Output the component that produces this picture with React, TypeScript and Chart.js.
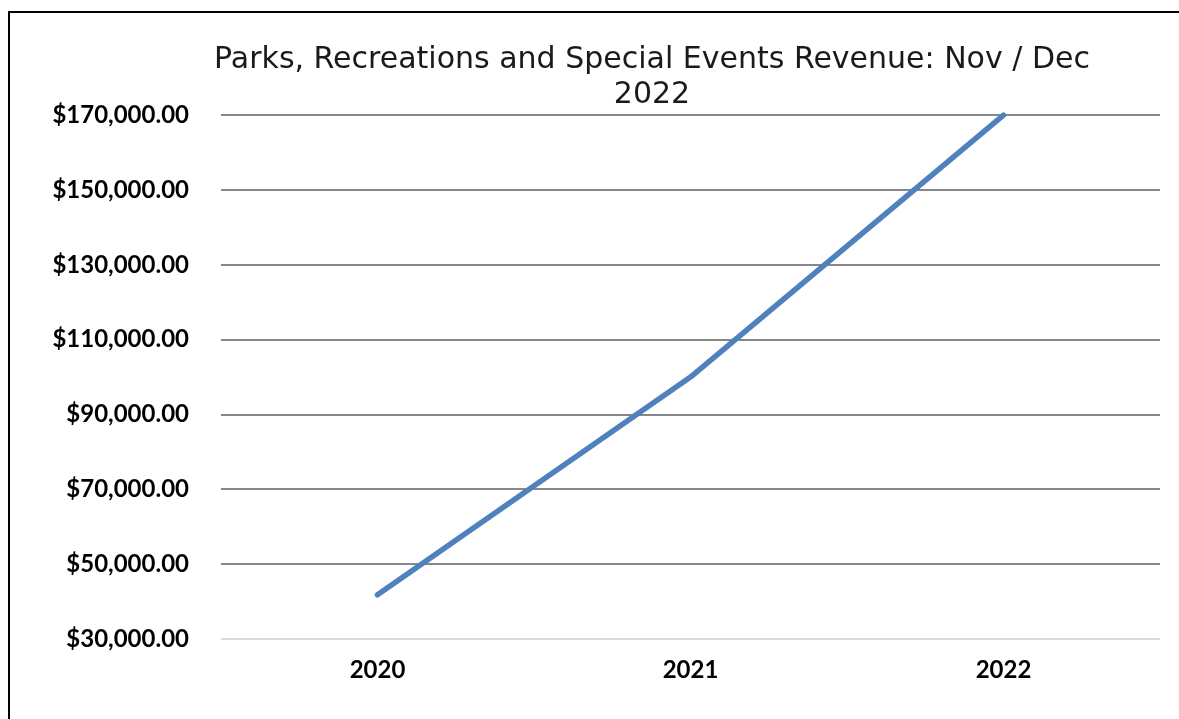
import React, { useEffect, useRef } from "react";
import { Chart, registerables } from "chart.js";

Chart.register(...registerables);

const categories = ["2020", "2021", "2022"];
const revenue = [41800, 100000, 170000];
const titleLines = ["Parks, Recreations and Special Events Revenue: Nov / Dec", "2022"];
const yMin = 30000;
const yMax = 170000;
const yStep = 20000;

function fmt(v: number): string {
  return "$" + v.toLocaleString("en-US", { minimumFractionDigits: 2, maximumFractionDigits: 2 });
}

export default function App() {
  const ref = useRef<HTMLCanvasElement>(null);
  useEffect(() => {
    if (!ref.current) return;
    const chart = new Chart(ref.current, {
      type: "line",
      data: {
        labels: categories,
        datasets: [
          {
            data: revenue,
            borderColor: "#4F81BD",
            backgroundColor: "#4F81BD",
            borderWidth: 5.5,
            pointRadius: 0,
            tension: 0,
            borderCapStyle: "round",
            borderJoinStyle: "round",
            fill: false,
            clip: false as any,
          },
        ],
      },
      options: {
        responsive: false,
        animation: false,
        layout: { padding: 0 },
        plugins: {
          legend: { display: false },
          tooltip: { enabled: false },
          title: {
            display: true,
            text: titleLines,
            color: "#1a1a1a",
            font: { family: "'DejaVu Sans', Verdana, sans-serif", size: 30, weight: "normal", lineHeight: 1.17 },
            padding: { top: 30, bottom: 2 },
          },
        },
        scales: {
          x: {
            offset: true,
            grid: { display: false },
            border: { display: false },
            ticks: {
              color: "#000",
              padding: 9,
              font: { family: "Lato, 'Noto Sans', sans-serif", size: 24, weight: "bold" },
            },
            afterFit: (s: any) => {
              s.height = 80;
            },
          },
          y: {
            min: yMin,
            max: yMax,
            ticks: {
              stepSize: yStep,
              color: "#000",
              padding: 32,
              font: { family: "Lato, 'Noto Sans', sans-serif", size: 24, weight: "bold" },
              callback: (v: any) => fmt(Number(v)),
            },
            grid: {
              drawTicks: false,
              lineWidth: 2,
              color: (ctx: any) => (ctx.tick && ctx.tick.value === yMin ? "#d9d9d9" : "#878787"),
            },
            border: { display: false },
            afterFit: (s: any) => {
              s.width = 211;
            },
          },
          yRight: {
            position: "right",
            display: true,
            grid: { display: false, drawTicks: false },
            border: { display: false },
            ticks: { display: false },
            afterFit: (s: any) => {
              s.width = 134;
            },
          },
        },
      },
    });
    return () => chart.destroy();
  }, []);

  return (
    <div style={{ position: "fixed", left: 0, top: 0, width: 1179, height: 719, overflow: "hidden", background: "#fff" }}>
      <div
        style={{
          marginLeft: 8,
          marginTop: 11,
          width: 1288,
          height: 760,
          border: "2px solid #000",
          boxSizing: "border-box",
        }}
      >
        <canvas ref={ref} width={1284} height={706} style={{ display: "block" }} />
      </div>
    </div>
  );
}
